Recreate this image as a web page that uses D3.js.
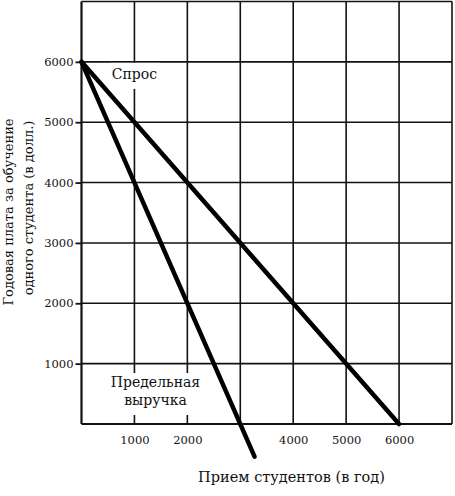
<!DOCTYPE html>
<html>
<head>
<meta charset="utf-8">
<script src="https://cdn.jsdelivr.net/npm/d3@7"></script>
<style>
	body { margin: 0; background: #fff; }
	svg text { font-family: "DejaVu Serif", serif; fill: #111; }
</style>
</head>
<body>
<svg id="chart" width="455" height="496"></svg>
<script>
//Chart values.
var demandQty = [0, 6000];
var demandPrice = [6000, 0];
var revenueQty = [0, 3270];
var revenuePrice = [6000, -540];
var xTickValues = [1000, 2000, 3000, 4000, 5000, 6000];
var xTickLabels = ["1000", "2000", "", "4000", "5000", "6000"];
var yTickValues = [1000, 2000, 3000, 4000, 5000, 6000];
var gridValues = [1000, 2000, 3000, 4000, 5000, 6000, 7000];

var svg = d3.select("#chart");

var x = d3.scaleLinear().domain([0, 7000]).range([81.5, 452]);
var y = d3.scaleLinear().domain([0, 7000]).range([424, 1.5]);

//Grid lines.
var grid = svg.append("g").attr("stroke", "#111").attr("stroke-width", 1.6);

grid.selectAll(".vgrid")
	.data(gridValues)
	.enter()
	.append("line")
	.attr("x1", function(d){ return x(d); })
	.attr("x2", function(d){ return x(d); })
	.attr("y1", y(0))
	.attr("y2", y(7000));

grid.selectAll(".hgrid")
	.data(gridValues)
	.enter()
	.append("line")
	.attr("y1", function(d){ return y(d); })
	.attr("y2", function(d){ return y(d); })
	.attr("x1", x(0))
	.attr("x2", x(7000));

//White boxes behind the line labels.
svg.append("rect")
	.attr("x", 110).attr("y", y(6000) + 1)
	.attr("width", 50).attr("height", 26)
	.attr("fill", "#fff");

svg.append("rect")
	.attr("x", 107).attr("y", 373)
	.attr("width", 96).attr("height", 42)
	.attr("fill", "#fff");

//Axes.
var yAxis = d3.axisLeft(y)
	.tickValues(yTickValues)
	.tickSize(6)
	.tickPadding(2)
	.tickFormat(d3.format("d"));

var xAxis = d3.axisBottom(x)
	.tickValues(xTickValues)
	.tickSize(0)
	.tickPadding(12)
	.tickFormat(function(d, i){ return xTickLabels[i]; });

svg.append("g")
	.attr("transform", "translate(" + x(0) + ",0)")
	.call(yAxis)
	.call(function(g){
		g.select(".domain").remove();
		g.selectAll("line").attr("stroke", "#111").attr("stroke-width", 1.8);
		g.selectAll("text").attr("font-size", "11.5px").attr("font-family", "DejaVu Serif");
	});

svg.append("g")
	.attr("transform", "translate(0," + y(0) + ")")
	.call(xAxis)
	.call(function(g){
		g.select(".domain").remove();
		g.selectAll("text").attr("font-size", "11.5px").attr("font-family", "DejaVu Serif");
	});

//Heavier axis lines.
svg.append("line")
	.attr("x1", x(0)).attr("x2", x(0))
	.attr("y1", y(7000)).attr("y2", y(0))
	.attr("stroke", "#111").attr("stroke-width", 2.2);

svg.append("line")
	.attr("x1", x(0)).attr("x2", x(7000))
	.attr("y1", y(0)).attr("y2", y(0))
	.attr("stroke", "#111").attr("stroke-width", 2.2);

//Demand and marginal revenue lines.
var line = d3.line()
	.x(function(d){ return x(d[0]); })
	.y(function(d){ return y(d[1]); });

svg.append("path")
	.datum(d3.zip(demandQty, demandPrice))
	.attr("d", line)
	.attr("fill", "none")
	.attr("stroke", "#000")
	.attr("stroke-width", 4.5)
	.attr("stroke-linecap", "round");

svg.append("path")
	.datum(d3.zip(revenueQty, revenuePrice))
	.attr("d", line)
	.attr("fill", "none")
	.attr("stroke", "#000")
	.attr("stroke-width", 4.5)
	.attr("stroke-linecap", "round");

//Labels.
svg.append("text")
	.attr("x", x(1000)).attr("y", 79)
	.attr("text-anchor", "middle")
	.attr("font-size", "14px")
	.text("Спрос");

svg.append("text")
	.attr("x", 155.5).attr("y", 387)
	.attr("text-anchor", "middle")
	.attr("font-size", "14px")
	.text("Предельная");

svg.append("text")
	.attr("x", 155.5).attr("y", 405)
	.attr("text-anchor", "middle")
	.attr("font-size", "14px")
	.text("выручка");

svg.append("text")
	.attr("x", 291.5).attr("y", 482)
	.attr("text-anchor", "middle")
	.attr("font-size", "14.5px")
	.text("Прием студентов (в год)");

svg.append("text")
	.attr("transform", "translate(13,212) rotate(-90)")
	.attr("text-anchor", "middle")
	.attr("font-size", "13px")
	.text("Годовая плата за обучение");

svg.append("text")
	.attr("transform", "translate(33,208) rotate(-90)")
	.attr("text-anchor", "middle")
	.attr("font-size", "13px")
	.text("одного студента (в долл.)");
</script>
</body>
</html>
